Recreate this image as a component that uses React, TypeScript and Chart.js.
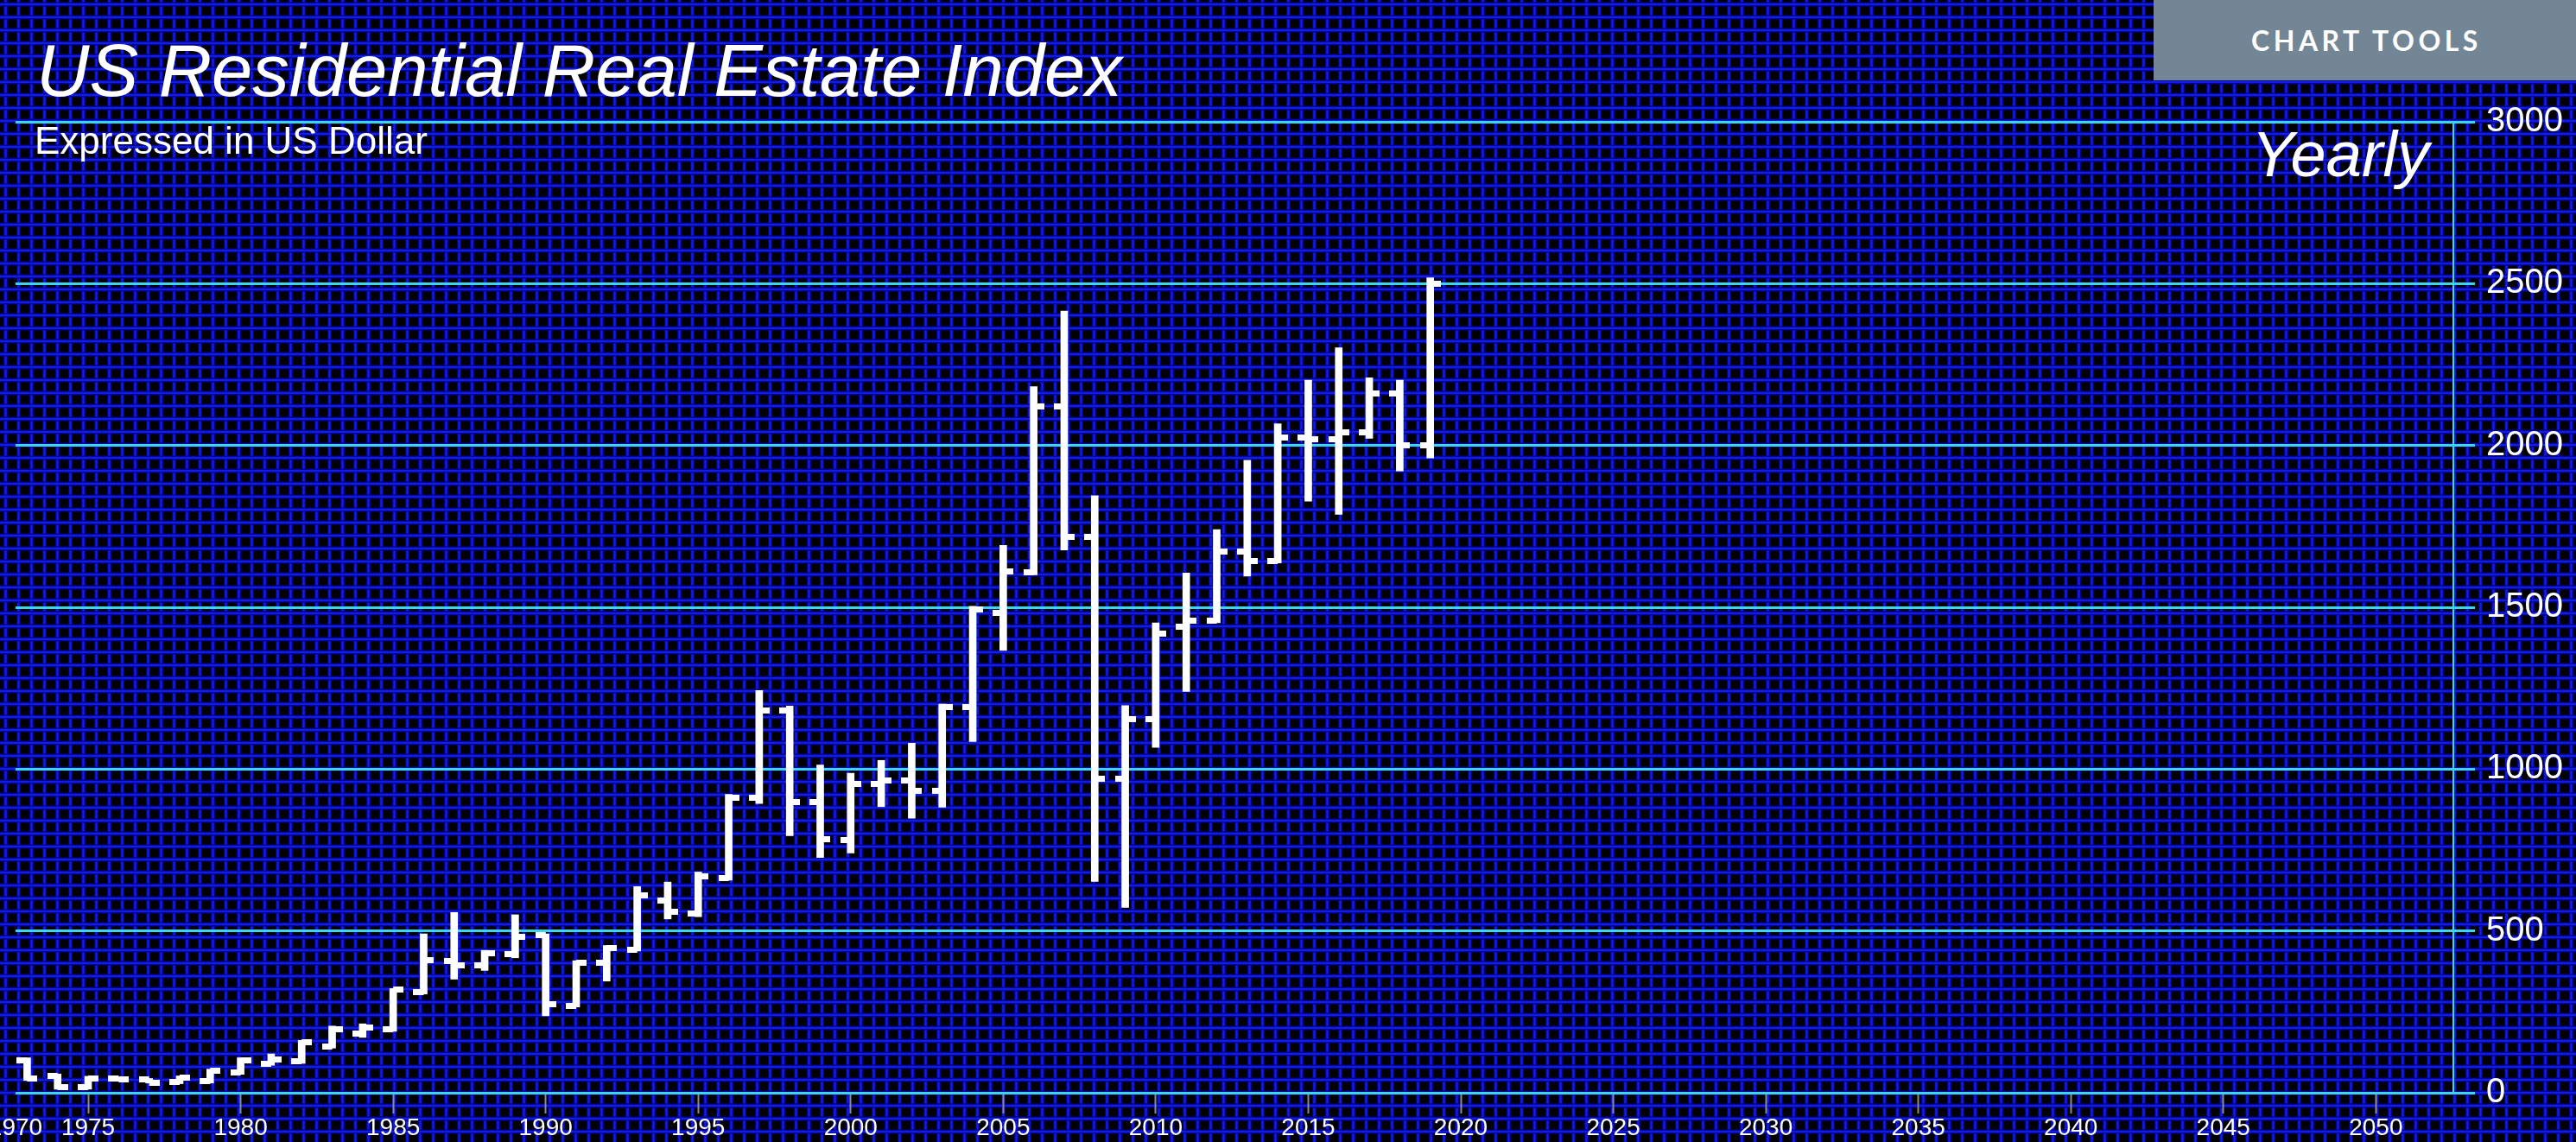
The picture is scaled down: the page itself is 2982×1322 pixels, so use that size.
import React, { useEffect, useRef } from 'react';
import { Chart, registerables } from 'chart.js';

Chart.register(...registerables);

// ---- data ----
const years = [
  1973, 1974, 1975, 1976, 1977, 1978, 1979, 1980, 1981, 1982,
  1983, 1984, 1985, 1986, 1987, 1988, 1989, 1990, 1991, 1992,
  1993, 1994, 1995, 1996, 1997, 1998, 1999, 2000, 2001, 2002,
  2003, 2004, 2005, 2006, 2007, 2008, 2009, 2010, 2011, 2012,
  2013, 2014, 2015, 2016, 2017, 2018, 2019,
];
const openVals = [
  100, 51, 17, 43, 41, 33, 37, 64, 90, 97,
  144, 184, 197, 310, 407, 393, 429, 487, 269, 402,
  442, 593, 553, 664, 912, 1181, 899, 780, 953, 966,
  933, 1192, 1483, 1608, 2120, 1718, 970, 1155, 1440, 1458,
  1671, 1644, 2025, 2020, 2040, 2160, 2000,
];
const highVals = [
  108, 58, 51, 47, 44, 52, 73, 108, 120, 162,
  206, 213, 322, 491, 557, 440, 550, 491, 408, 455,
  637, 651, 682, 922, 1243, 1195, 1013, 987, 1027, 1080,
  1201, 1503, 1691, 2182, 2415, 1845, 1196, 1452, 1606, 1740,
  1954, 2067, 2202, 2302, 2209, 2202, 2518,
];
const lowVals = [
  38, 11, 11, 37, 30, 28, 30, 57, 85, 91,
  138, 171, 190, 305, 351, 378, 417, 238, 265, 345,
  438, 537, 544, 657, 894, 794, 727, 741, 884, 848,
  882, 1085, 1367, 1600, 1677, 653, 573, 1067, 1240, 1452,
  1596, 1637, 1828, 1787, 2022, 1921, 1961,
];
const closeVals = [
  44, 17, 44, 42, 32, 47, 68, 101, 104, 156,
  197, 202, 318, 410, 393, 432, 482, 273, 402, 447,
  611, 558, 669, 912, 1181, 899, 783, 953, 966, 933,
  1192, 1494, 1610, 2120, 1718, 970, 1155, 1418, 1458, 1671,
  1644, 2025, 2020, 2040, 2160, 2000, 2500,
];

const X_MIN = 1972.62;
const X_MAX = 2052.54;
const xTickValues = [X_MIN, 1975, 1980, 1985, 1990, 1995, 2000, 2005, 2010, 2015, 2020, 2025, 2030, 2035, 2040, 2045, 2050];
const xTickLabels = ['1970', '1975', '1980', '1985', '1990', '1995', '2000', '2005', '2010', '2015', '2020', '2025', '2030', '2035', '2040', '2045', '2050'];
const Y_MIN = 0;
const Y_MAX = 3000;
const Y_STEP = 500;

const W = 2982;
const H = 1322;
const FONT = '"Liberation Sans", Arial, Helvetica, sans-serif';
const CYAN = '#3ad6ee';

function makeTick(side: 'left' | 'right'): HTMLCanvasElement {
  const c = document.createElement('canvas');
  c.width = 24;
  c.height = 7;
  const g = c.getContext('2d')!;
  g.fillStyle = '#ffffff';
  if (side === 'left') g.fillRect(0, 0, 12, 7);
  else g.fillRect(12, 0, 12, 7);
  return c;
}

const backgroundPlugin = {
  id: 'blueGrid',
  beforeDraw(chart: any) {
    const { ctx, width, height } = chart;
    ctx.save();
    ctx.fillStyle = '#000000';
    ctx.fillRect(0, 0, width, height);
    const period = 15;
    for (let x = 6.5; x < width + period; x += period) {
      ctx.fillStyle = 'rgb(0,0,135)';
      ctx.fillRect(x - 2.5, 0, 5, height);
      ctx.fillStyle = 'rgb(18,28,226)';
      ctx.fillRect(x - 1.25, 0, 2.5, height);
    }
    for (let y = 5; y < height + period; y += period) {
      ctx.fillStyle = 'rgb(0,0,135)';
      ctx.fillRect(0, y - 2.5, width, 5);
      ctx.fillStyle = 'rgb(18,28,226)';
      ctx.fillRect(0, y - 1.25, width, 2.5);
    }
    ctx.restore();
  },
};

export default function App() {
  const canvasRef = useRef<HTMLCanvasElement | null>(null);

  useEffect(() => {
    document.body.style.margin = '0';
    document.body.style.background = '#000';
    const canvas = canvasRef.current;
    if (!canvas) return;
    const openTick = makeTick('left');
    const closeTick = makeTick('right');

    const chart = new Chart(canvas, {
      type: 'bar',
      data: {
        datasets: [
          {
            type: 'bar',
            data: years.map((yr, i) => ({ x: yr, y: [lowVals[i], highVals[i]] })) as any,
            backgroundColor: '#ffffff',
            borderWidth: 0,
            barThickness: 8,
            order: 2,
          } as any,
          {
            type: 'scatter',
            data: years.map((yr, i) => ({ x: yr, y: openVals[i] })),
            pointStyle: openTick as any,
            pointRadius: 3,
            order: 1,
          } as any,
          {
            type: 'scatter',
            data: years.map((yr, i) => ({ x: yr, y: closeVals[i] })),
            pointStyle: closeTick as any,
            pointRadius: 3,
            order: 1,
          } as any,
        ],
      },
      options: {
        animation: false,
        responsive: false,
        devicePixelRatio: 1,
        events: [],
        layout: { padding: { top: 141, left: 18, right: 0, bottom: 0 } },
        plugins: {
          legend: { display: false },
          tooltip: { enabled: false },
          title: { display: false },
        },
        scales: {
          x: {
            type: 'linear',
            min: X_MIN,
            max: X_MAX,
            offset: false,
            afterBuildTicks: (s: any) => {
              s.ticks = xTickValues.map((v) => ({ value: v }));
            },
            afterFit: (s: any) => {
              s.height = 57;
              s.paddingLeft = 0;
              s.paddingRight = 0;
            },
            ticks: {
              autoSkip: false,
              maxRotation: 0,
              minRotation: 0,
              color: '#ffffff',
              font: { family: FONT, size: 28 },
              padding: 0,
              callback: (_v: any, i: number) => xTickLabels[i],
            },
            grid: {
              display: true,
              drawOnChartArea: false,
              drawTicks: true,
              tickLength: 24,
              tickWidth: 2,
              offset: false,
              tickColor: (c: any) => (c.index === 0 ? 'rgba(0,0,0,0)' : '#8c8c8c'),
            },
            border: { display: false },
          } as any,
          y: {
            type: 'linear',
            position: 'right',
            min: Y_MIN,
            max: Y_MAX,
            afterFit: (s: any) => {
              s.width = 142;
            },
            ticks: {
              stepSize: Y_STEP,
              color: '#ffffff',
              font: { family: FONT, size: 40 },
              padding: 13,
              callback: (v: any) => String(v),
            },
            grid: {
              color: CYAN,
              lineWidth: 3,
              tickLength: 25,
              drawTicks: true,
            },
            border: { display: true, color: CYAN, width: 2 },
          } as any,
        },
      },
      plugins: [backgroundPlugin],
    });
    return () => chart.destroy();
  }, []);

  return (
    <div style={{ position: 'relative', width: W, height: H, overflow: 'hidden', background: '#000' }}>
      <canvas ref={canvasRef} width={W} height={H} style={{ position: 'absolute', left: 0, top: 0, width: W, height: H }} />
      <div
        style={{
          position: 'absolute', left: 42, top: 39, font: `italic 85px ${FONT}`, lineHeight: '85px',
          color: '#fff', whiteSpace: 'nowrap',
        }}
      >
        US Residential Real Estate Index
      </div>
      <div
        style={{
          position: 'absolute', left: 40, top: 141, font: `44px ${FONT}`, lineHeight: '44px',
          color: '#fff', whiteSpace: 'nowrap',
        }}
      >
        Expressed in US Dollar
      </div>
      <div
        style={{
          position: 'absolute', right: 170, top: 142, font: `italic 74px ${FONT}`, lineHeight: '74px',
          color: '#fff', whiteSpace: 'nowrap',
        }}
      >
        Yearly
      </div>
      <div
        style={{
          position: 'absolute', left: 2493, top: 0, width: W - 2493, height: 93, background: '#728696',
          display: 'flex', alignItems: 'center', justifyContent: 'center', color: '#fff',
          font: '700 32px Lato, "Open Sans", sans-serif', letterSpacing: '4.5px', paddingLeft: 4,
          boxSizing: 'border-box',
        }}
      >
        CHART TOOLS
      </div>
    </div>
  );
}
